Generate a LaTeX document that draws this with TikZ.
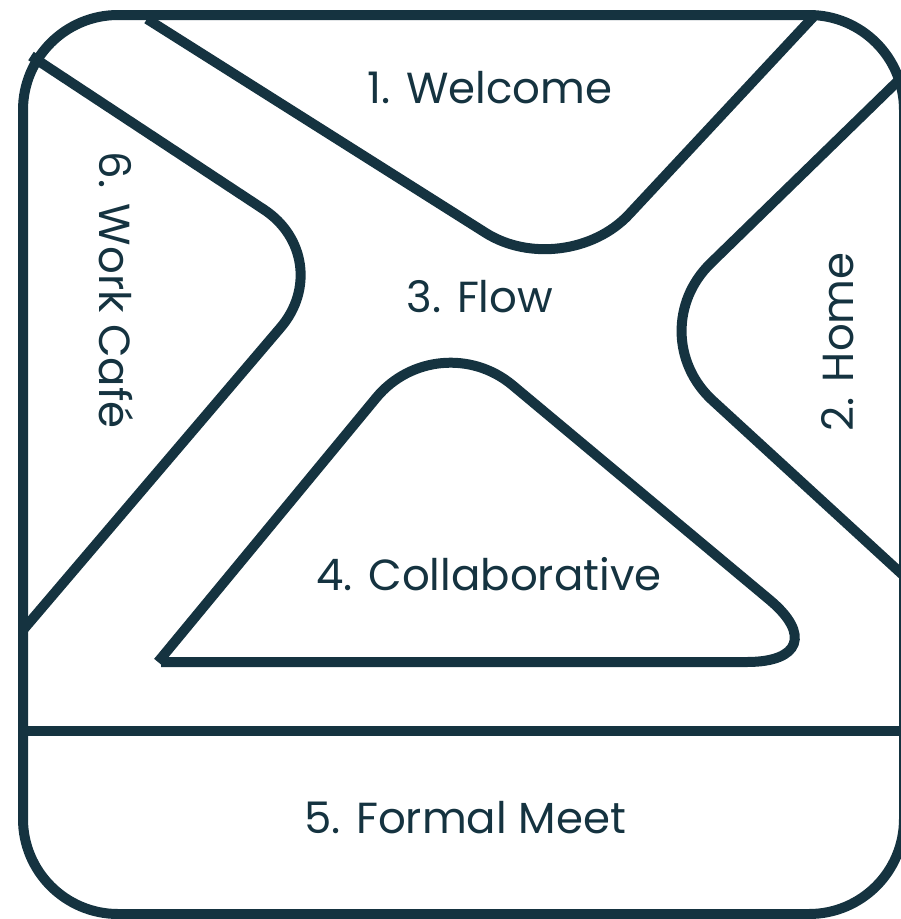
\documentclass[tikz,border=0pt]{standalone}
\usepackage{fontspec}
\setmainfont{Poppins}
\definecolor{ink}{RGB}{21,51,64}
\begin{document}
\begin{tikzpicture}[x=1pt,y=-1pt,
  wall/.style={draw=ink, line width=10pt},
  lbl/.style={text=ink, inner sep=0pt, font=\fontsize{43.5}{45}\selectfont}]
\useasboundingbox (0,0) rectangle (901,919);
% outer frame
\draw[wall, rounded corners=95pt] (23,15) rectangle (904,914);
% divider above formal meet
\coordinate (dl) at (23,731);
\coordinate (dr) at (904,731);
\draw[wall] (dl) -- (dr);
% welcome boundary
\coordinate (a1) at (147,19);
\coordinate (a2) at (565,283);
\coordinate (a3) at (815,15);
\draw[wall, rounded corners=94pt] (a1) -- (a2) -- (a3);
% work cafe boundary
\coordinate (b1) at (31,56);
\coordinate (b2) at (339,259);
\coordinate (b3) at (23,630);
\draw[wall, rounded corners=90pt] (b1) -- (b2) -- (b3);
% home boundary
\coordinate (c1) at (900,79);
\coordinate (c2) at (639,333);
\coordinate (c3) at (904,576);
\draw[wall, rounded corners=100pt] (c1) -- (c2) -- (c3);
% collaborative triangle
\coordinate (t1) at (161,662);
\coordinate (t2) at (844,662);
\coordinate (t3) at (438,323);
\coordinate (t4) at (158,662);
\draw[wall, rounded corners=97pt] (t1) -- (t2) -- (t3) -- (t4);
% labels
\node[lbl, anchor=base] (welcome) at (490,103) {1. Welcome};
\node[lbl, anchor=base] (flow) at (480,312) {3. Flow};
\node[lbl, anchor=base] (collab) at (489,590) {4. Collaborative};
\node[lbl, anchor=base] (formal) at (465,833) {5. Formal Meet};
\node[lbl, anchor=base, rotate=-90] (cafe) at (99,290) {6. Work Café};
\node[lbl, anchor=base, rotate=90] (home) at (853,342) {2. Home};
\end{tikzpicture}
\end{document}
